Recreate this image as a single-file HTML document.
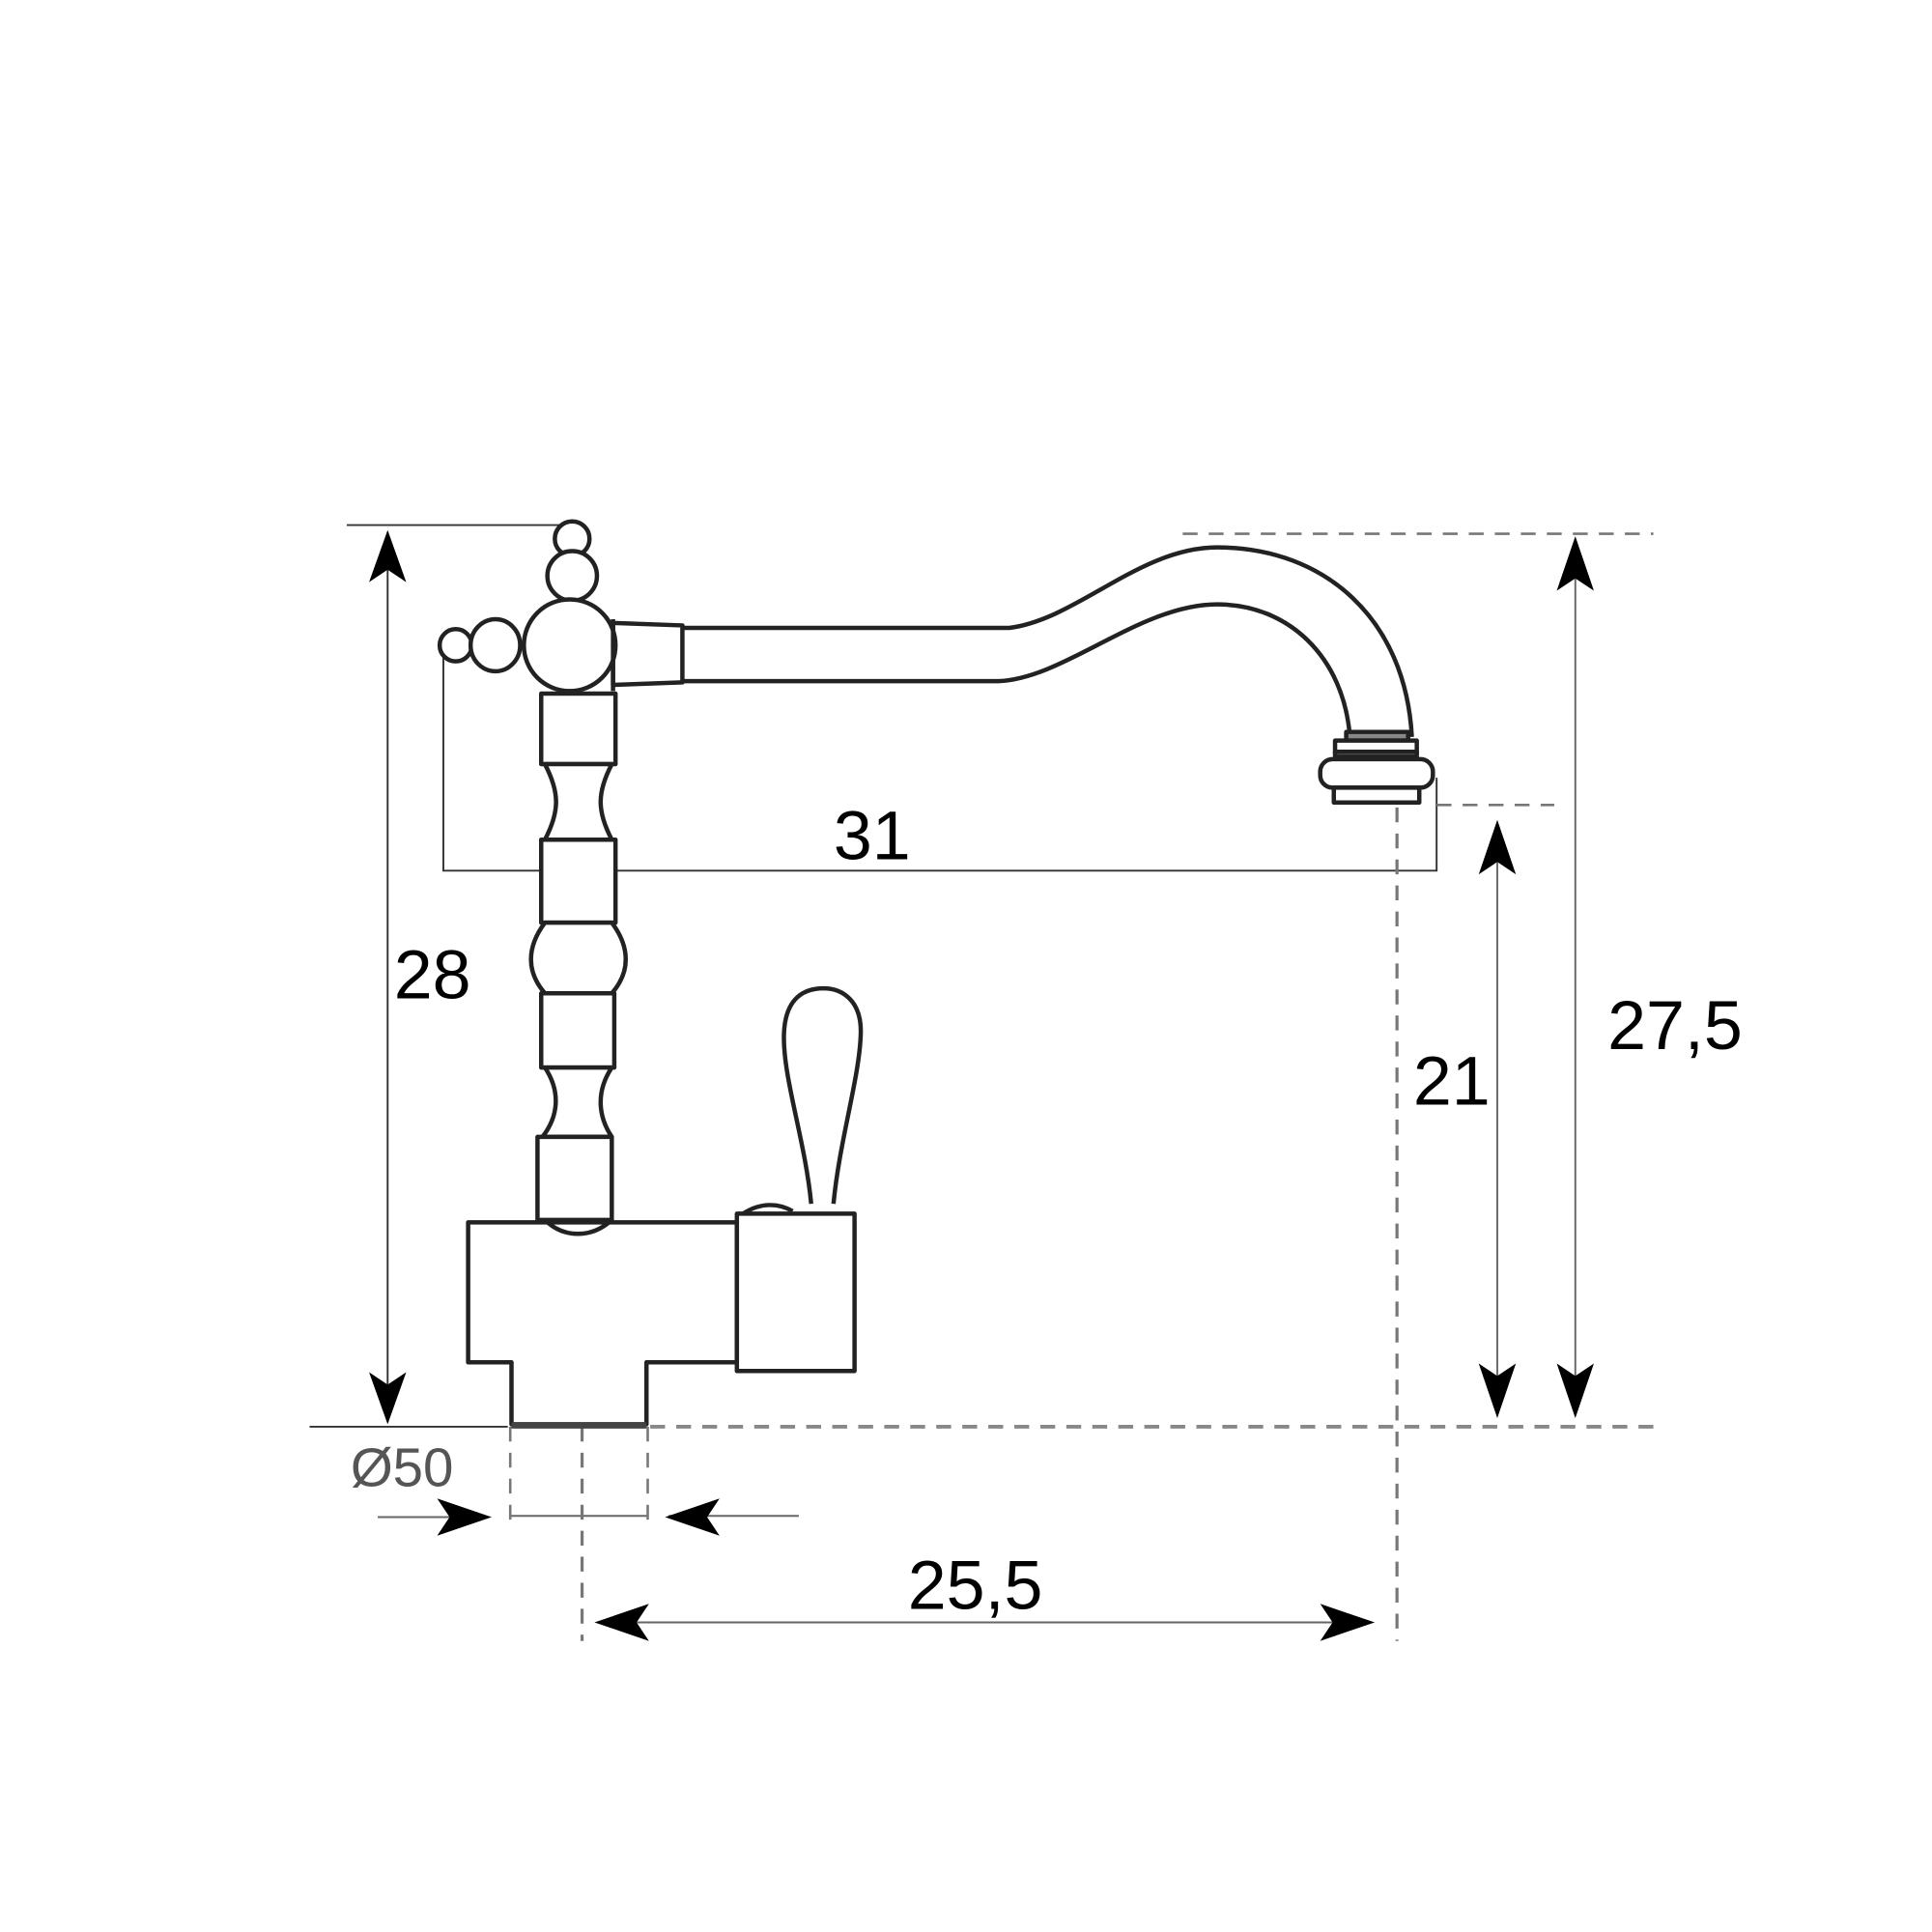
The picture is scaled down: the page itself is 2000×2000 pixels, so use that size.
<!DOCTYPE html>
<html><head><meta charset="utf-8"><style>
html,body{margin:0;padding:0;background:#fff;}
svg{display:block;}
text{font-family:"Liberation Sans",sans-serif;}
</style></head><body>
<svg width="2000" height="2000" viewBox="0 0 1560 1560" xmlns="http://www.w3.org/2000/svg">
<rect width="1560" height="1560" fill="#fff"/>
<g stroke="#333" stroke-width="1.5" fill="none">
<line x1="280" y1="424" x2="462" y2="424"/>
<line x1="313" y1="430" x2="313" y2="1148"/>
<line x1="250" y1="1152" x2="410" y2="1152"/>
<polyline points="358,523 358,703 1160,703 1160,628"/>
<line x1="1272" y1="440" x2="1272" y2="1140" stroke="#666"/>
<line x1="1209" y1="668" x2="1209" y2="1140" stroke="#666"/>
<line x1="485" y1="1310" x2="1105" y2="1310" stroke="#666"/>
<line x1="305" y1="1225" x2="390" y2="1225" stroke="#666"/>
<line x1="412" y1="1224" x2="523" y2="1224" stroke="#666"/>
<line x1="540" y1="1224" x2="645" y2="1224" stroke="#666"/>
</g>
<g stroke="#777" stroke-width="2" fill="none" stroke-dasharray="12,9">
<line x1="955" y1="431" x2="1335" y2="431"/>
<line x1="1160" y1="650" x2="1255" y2="650"/>
<line x1="525" y1="1152" x2="1335" y2="1152" stroke-width="3" stroke="#888"/>
<line x1="1128" y1="652" x2="1128" y2="1325" stroke-width="2.5"/>
<line x1="470" y1="1152" x2="470" y2="1325" stroke-width="2.5"/>
<line x1="412" y1="1152" x2="412" y2="1228"/>
<line x1="523" y1="1152" x2="523" y2="1228"/>
</g>
<g fill="#000">
<path d="M313,428 L298,470 L313,460 L328,470Z"/>
<path d="M313,1150 L298,1108 L313,1118 L328,1108Z"/>
<path d="M1272,433 L1257,477 L1272,467 L1287,477Z"/>
<path d="M1272,1145 L1257,1101 L1272,1111 L1287,1101Z"/>
<path d="M1209,662 L1194,706 L1209,696 L1224,706Z"/>
<path d="M1209,1145 L1194,1101 L1209,1111 L1224,1101Z"/>
<path d="M480,1310 L524,1295 L514,1310 L524,1325Z"/>
<path d="M1110,1310 L1066,1295 L1076,1310 L1066,1325Z"/>
<path d="M397,1225 L353,1210 L363,1225 L353,1240Z"/>
<path d="M537,1225 L581,1210 L571,1225 L581,1240Z"/>
</g>
<g stroke="#222" stroke-width="3.5" fill="#fff" stroke-linejoin="round">
<path d="M552,507 L815,507 C870,500 920,442 983,442 C1070,442 1135,500 1140,595" fill="none"/>
<path d="M552,550 L806,550 C860,548 920,488 983,488 C1040,488 1085,530 1090,595" fill="none"/>
<rect x="1087" y="591" width="50" height="7" fill="#888"/>
<rect x="1078" y="598" width="66" height="10"/>
<rect x="1078" y="607" width="66" height="4" fill="#777"/>
<rect x="1066" y="613" width="91" height="23" rx="10"/>
<rect x="1077" y="636" width="69" height="12"/>
<path d="M495,503 L551,505 L551,551 L495,553Z"/>
<circle cx="462" cy="435" r="14"/>
<circle cx="462" cy="465" r="20"/>
<circle cx="368" cy="521" r="13"/>
<ellipse cx="400" cy="521" rx="20" ry="21"/>
<circle cx="460" cy="521" r="37"/>
<line x1="495" y1="500" x2="495" y2="558"/>
<rect x="437" y="560" width="60" height="57"/>
<path d="M440,617 C452,640 452,655 440,678 L494,678 C482,655 482,640 494,617Z"/>
<rect x="437" y="678" width="60" height="67"/>
<path d="M440,745 C425,765 425,785 440,802 L494,802 C509,785 509,765 494,745Z"/>
<rect x="437" y="802" width="59" height="60"/>
<path d="M440,862 C452,880 452,900 438,918 L494,918 C482,900 482,880 494,862Z"/>
<rect x="434" y="918" width="60" height="67"/>
<path d="M378,987 L595,987 L595,1100 L522,1100 L522,1150 L413,1150 L413,1100 L378,1100Z"/>
<path d="M440,985 C455,1000 478,1000 494,985" fill="none"/>
<path d="M655,972 C650,920 632,870 633,835 C634,805 650,798 665,798 C680,798 696,808 695,835 C694,870 678,920 673,972"/>
<path d="M600,980 C615,970 630,972 640,978" fill="none"/>
<rect x="595" y="980" width="95" height="127"/>
</g>
<line x1="413" y1="1151" x2="522" y2="1151" stroke="#444" stroke-width="5"/>
<g fill="#000" font-size="56">
<text x="318" y="806">28</text>
<text x="673" y="694">31</text>
<text x="1141" y="892">21</text>
<text x="1298" y="847">27,5</text>
<text x="733" y="1299">25,5</text>
</g>
<text x="283" y="1200" font-size="44" fill="#555">Ø50</text>
</svg>
</body></html>
